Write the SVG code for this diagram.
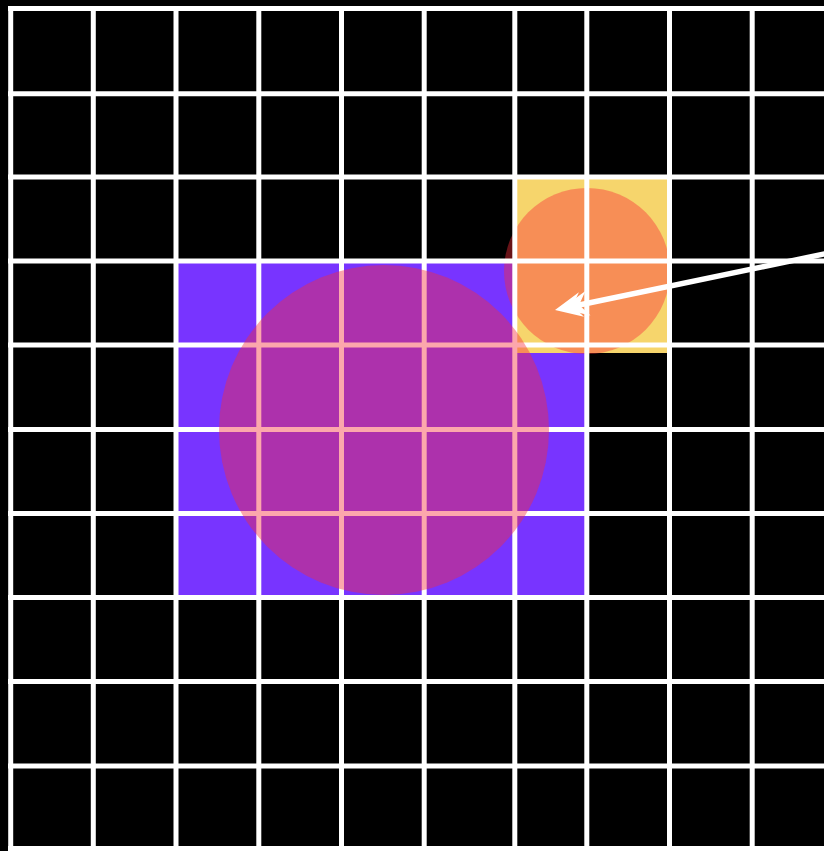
<svg xmlns="http://www.w3.org/2000/svg" xmlns:xlink="http://www.w3.org/1999/xlink" width="824" height="851" viewBox="0 0 824 851">
  <style>
    .grid line { stroke: #ffffff; stroke-width: 5; }
    .blob { fill: #f72e3a; fill-opacity: 0.42; }
    .conn { stroke: #ffffff; stroke-width: 5.5; fill: none; }
    .head { fill: #ffffff; }
  </style>
  <defs>
    <path id="head" class="head" d="M0,0 L-27,-12.5 L-18,0 L-27,12.5 Z"/>
  </defs>
  <rect x="0" y="0" width="824" height="851" fill="#000000"/>

  <g id="purple-square">
    <rect x="176" y="261" width="411" height="337" fill="#7834ff"/>
  </g>
  <g id="yellow-square">
    <rect x="515" y="177" width="155" height="176" fill="#f6d56c"/>
  </g>
  <g id="small-circle">
    <circle class="blob" cx="587" cy="271" r="83"/>
  </g>

  <g id="grid" class="grid">
    <line x1="8" y1="8.5" x2="824" y2="8.5"/>
    <line x1="8" y1="93.8" x2="824" y2="93.8"/>
    <line x1="8" y1="177" x2="824" y2="177"/>
    <line x1="8" y1="261" x2="824" y2="261"/>
    <line x1="8" y1="345" x2="824" y2="345"/>
    <line x1="8" y1="429.5" x2="824" y2="429.5"/>
    <line x1="8" y1="513.5" x2="824" y2="513.5"/>
    <line x1="8" y1="597.5" x2="824" y2="597.5"/>
    <line x1="8" y1="681.5" x2="824" y2="681.5"/>
    <line x1="8" y1="766" x2="824" y2="766"/>
    <line x1="8" y1="848.5" x2="824" y2="848.5"/>
    <line x1="10.7" y1="6" x2="10.7" y2="851"/>
    <line x1="93.3" y1="6" x2="93.3" y2="851"/>
    <line x1="176" y1="6" x2="176" y2="851"/>
    <line x1="258.8" y1="6" x2="258.8" y2="851"/>
    <line x1="341.5" y1="6" x2="341.5" y2="851"/>
    <line x1="424.2" y1="6" x2="424.2" y2="851"/>
    <line x1="514.8" y1="6" x2="514.8" y2="851"/>
    <line x1="586.8" y1="6" x2="586.8" y2="851"/>
    <line x1="669.5" y1="6" x2="669.5" y2="851"/>
    <line x1="752.2" y1="6" x2="752.2" y2="851"/>
  </g>

  <g id="big-circle">
    <circle class="blob" cx="384" cy="430" r="165"/>
  </g>

  <g id="connectors">
    <line class="conn" x1="830" y1="252.8" x2="572" y2="306.5"/>
    <use xlink:href="#head" transform="translate(555,310) rotate(168.24)"/>
    <use xlink:href="#head" transform="translate(561.5,308.7) rotate(168.24)"/>
  </g>
</svg>
